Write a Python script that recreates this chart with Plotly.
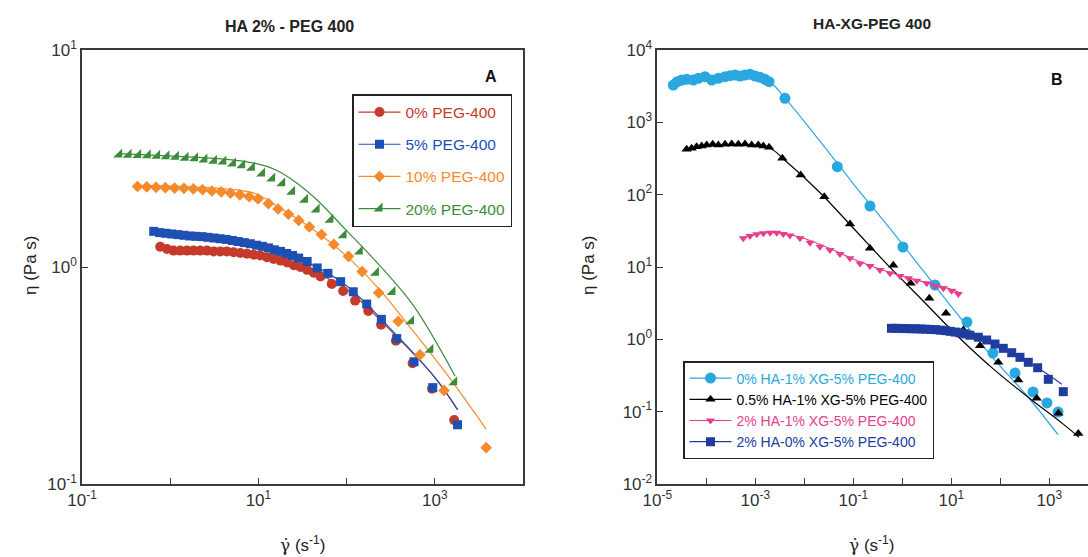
import plotly.graph_objects as go

# ---------------- Panel A : HA 2% - PEG 400 ----------------
a_red_x = [0.77, 0.92, 1.09, 1.30, 1.55, 1.84, 2.19, 2.61, 3.11, 3.70, 4.40, 5.24, 6.24, 7.43, 8.85,
           10.5, 12.5, 14.9, 17.8, 21.2, 25.2, 30.0, 35.7, 42.5, 50.6, 67.9, 91.4, 125, 176, 246, 362, 560, 930, 1660]
a_red_y = [1.24, 1.21, 1.19, 1.19, 1.19, 1.19, 1.19, 1.19, 1.18, 1.18, 1.18, 1.17, 1.16, 1.15, 1.14,
           1.13, 1.11, 1.09, 1.07, 1.05, 1.02, 1.00, 0.97, 0.94, 0.905, 0.836, 0.775, 0.70, 0.627, 0.542, 0.457, 0.36, 0.275, 0.197]
a_red_fit_x = [0.77, 5.0, 20.0, 50.0, 100, 300, 1000, 1810]
a_red_fit_y = [1.20, 1.17, 1.06, 0.92, 0.79, 0.52, 0.31, 0.22]

a_blue_x = [0.65, 0.76, 0.89, 1.04, 1.22, 1.43, 1.67, 1.96, 2.29, 2.68, 3.14, 3.68, 4.31, 5.05, 5.91, 6.92,
            8.1, 9.5, 11.1, 13.0, 15.2, 17.8, 20.9, 24.4, 28.6, 35.7, 46.4, 61.4, 85.5, 119, 169, 248, 370, 582, 949, 1810]
a_blue_y = [1.46, 1.44, 1.43, 1.42, 1.41, 1.40, 1.39, 1.385, 1.38, 1.37, 1.36, 1.35, 1.34, 1.325, 1.31, 1.295,
            1.28, 1.26, 1.245, 1.225, 1.20, 1.18, 1.155, 1.13, 1.10, 1.06, 0.99, 0.935, 0.856, 0.769, 0.675, 0.574, 0.468, 0.366, 0.278, 0.1875]
a_blue_fit_x = [0.65, 5.0, 20.0, 50.0, 100, 300, 1000, 1810]
a_blue_fit_y = [1.45, 1.33, 1.16, 0.98, 0.82, 0.53, 0.31, 0.22]

a_orange_x = [0.426, 0.542, 0.691, 0.881, 1.12, 1.43, 1.83, 2.33, 2.97, 3.79, 4.83, 6.15, 7.85, 9.91,
              13.0, 16.7, 21.9, 28.6, 37.8, 51.9, 71.6, 105, 150, 231, 385, 679, 1274, 3820]
a_orange_y = [2.35, 2.34, 2.33, 2.32, 2.31, 2.305, 2.29, 2.27, 2.24, 2.22, 2.19, 2.15, 2.11, 2.06,
              1.96, 1.85, 1.75, 1.64, 1.53, 1.41, 1.27, 1.12, 0.953, 0.760, 0.562, 0.394, 0.270, 0.147]
a_orange_fit_x = [0.426, 2.62, 9.22, 15.8, 38.9, 95.5, 235, 578, 1420, 3820]
a_orange_fit_y = [2.38, 2.32, 2.18, 1.92, 1.52, 1.14, 0.789, 0.502, 0.314, 0.179]

a_green_x = [0.264, 0.337, 0.433, 0.557, 0.711, 0.906, 1.16, 1.49, 1.91, 2.44, 3.13, 4.0, 5.14, 6.55, 8.43,
             11.0, 14.3, 18.6, 24.1, 33.7, 45.7, 65.5, 92.2, 141, 215, 331, 537, 890, 1660]
a_green_y = [3.30, 3.29, 3.28, 3.27, 3.26, 3.24, 3.22, 3.19, 3.17, 3.13, 3.09, 3.06, 3.00, 2.94, 2.87,
             2.70, 2.56, 2.43, 2.22, 2.04, 1.84, 1.65, 1.40, 1.18, 0.94, 0.766, 0.562, 0.416, 0.294]
a_green_fit_x = [0.264, 1.06, 4.10, 9.22, 15.8, 27.2, 46.6, 95.5, 235, 578, 1700]
a_green_fit_y = [3.33, 3.24, 3.14, 3.00, 2.80, 2.44, 2.03, 1.50, 1.02, 0.660, 0.314]

# ---------------- Panel B : HA-XG-PEG 400 ----------------
b_lb_x = [2.12e-5, 2.56e-5, 3.14e-5, 3.97e-5, 5.43e-5, 6.87e-5, 9.4e-5, 1.29e-4, 1.76e-4, 2.41e-4, 3.05e-4,
          3.85e-4, 4.88e-4, 6.17e-4, 7.80e-4, 9.86e-4, 1.25e-3, 1.58e-3, 1.91e-3, 4.04e-3, 0.0472, 0.219,
          1.03, 4.64, 20.9, 70.8, 200, 467, 897, 1510]
b_lb_y = [3280, 3650, 3850, 3930, 3850, 4060, 4280, 3850, 4060, 4280, 4420,
          4510, 4370, 4510, 4610, 4370, 4190, 3930, 3650, 2150, 244, 69.7,
          18.9, 5.64, 1.73, 0.647, 0.342, 0.187, 0.132, 0.0989]
b_lb_fit_x = [2.02e-5, 1.5e-4, 1.89e-3, 4.14e-3, 0.0203, 0.104, 0.537, 2.76, 14.2, 72.9, 375, 1510]
b_lb_fit_y = [3900, 4100, 3600, 2110, 562, 137, 35.4, 8.63, 2.11, 0.543, 0.157, 0.048]

b_bk_x = [3.97e-5, 5.02e-5, 6.35e-5, 8.05e-5, 1.02e-4, 1.35e-4, 1.76e-4, 2.41e-4, 3.30e-4, 4.51e-4, 6.17e-4,
          8.43e-4, 1.15e-3, 1.46e-3, 1.91e-3, 3.56e-3, 8.43e-3, 0.0256, 0.0857, 0.219, 0.655, 1.48, 3.56,
          7.80, 17.6, 38.5, 91.0, 233, 553, 1530, 3910]
b_bk_y = [424, 437, 461, 471, 486, 497, 486, 497, 501, 497, 501,
          486, 486, 471, 451, 318, 187, 93.8, 39.3, 18.1, 10.6, 5.94, 3.69,
          2.29, 1.35, 0.817, 0.481, 0.274, 0.153, 0.0948, 0.050]
b_bk_fit_x = [3.71e-5, 1.49e-4, 1.89e-3, 3.95e-3, 0.0203, 0.104, 0.537, 2.76, 14.2, 72.9, 376, 1930, 4040]
b_bk_fit_y = [424, 480, 445, 302, 109, 33.5, 10.2, 3.31, 1.07, 0.387, 0.157, 0.0673, 0.0443]

b_pk_x = [5.69e-4, 7.80e-4, 1.07e-3, 1.46e-3, 2.0e-3, 2.74e-3, 3.72e-3, 5.10e-3, 8.17e-3, 0.0131, 0.0209,
          0.0334, 0.0536, 0.0857, 0.137, 0.219, 0.351, 0.561, 0.897, 1.33, 1.97, 3.15, 4.65, 6.87, 10.2, 13.9]
b_pk_y = [24.9, 26.8, 28.3, 29.2, 29.8, 29.8, 28.6, 27.2, 24.9, 21.7, 19.1,
          17.2, 15.1, 13.2, 11.2, 10.3, 9.08, 8.18, 7.50, 6.98, 6.46, 5.95, 5.46, 5.07, 4.70, 4.24]
b_pk_fit_x = [5.7e-4, 2.0e-3, 8.0e-3, 0.033, 0.137, 0.56, 2.0, 6.9, 14.0]
b_pk_fit_y = [25.5, 30.0, 26.0, 18.0, 11.8, 8.4, 6.6, 5.3, 4.5]

b_db_x = [0.60, 0.76, 0.95, 1.2, 1.5, 1.9, 2.4, 3.0, 3.8, 4.8, 6.0, 7.6, 9.5, 12, 15, 19, 24,
          35.6, 52.7, 78, 115, 171, 252, 373, 579, 955, 1930]
b_db_y = [1.42, 1.42, 1.41, 1.41, 1.40, 1.40, 1.39, 1.38, 1.37, 1.36, 1.34, 1.32, 1.29, 1.26, 1.23, 1.19, 1.14,
          1.07, 0.979, 0.861, 0.751, 0.653, 0.564, 0.481, 0.405, 0.280, 0.189]
b_db_fit_x = [0.60, 10, 40, 150, 500, 1800]
b_db_fit_y = [1.42, 1.30, 1.05, 0.68, 0.43, 0.24]

# ---------------- styling ----------------
RED, BLUE, ORANGE, GREEN = "#C63A2B", "#1E50B4", "#F58A2C", "#3C8C3C"
LBLUE, BLACK, PINK, DBLUE = "#29A8E0", "#000000", "#E63E8C", "#203C9E"
FONT = "Liberation Sans, Arial, sans-serif"
AXC = "#3a3a3a"

fig = go.Figure()

def add_series(x, y, fx, fy, color, symbol, size, name, xa, ya, legend, group):
    fig.add_trace(go.Scatter(x=fx, y=fy, mode="lines",
                             line=dict(color=color, width=1.2, shape="spline", smoothing=1.0),
                             xaxis=xa, yaxis=ya, showlegend=False, hoverinfo="skip"))
    fig.add_trace(go.Scatter(x=x, y=y, mode="markers",
                             marker=dict(color=color, symbol=symbol, size=size, line=dict(width=0)),
                             xaxis=xa, yaxis=ya, showlegend=False))
    fig.add_trace(go.Scatter(x=[None], y=[None], mode="lines+markers",
                             line=dict(color=color, width=1.2),
                             marker=dict(color=color, symbol=symbol, size=size, line=dict(width=0)),
                             xaxis=xa, yaxis=ya, legend=legend, legendgroup=group,
                             name=f"<span style='color:{color}'>{name}</span>"))

add_series(a_red_x, a_red_y, a_red_fit_x, a_red_fit_y, RED, "circle", 10, "0% PEG-400", "x", "y", "legend", "a1")
add_series(a_blue_x, a_blue_y, a_blue_fit_x, a_blue_fit_y, BLUE, "square", 9, "5% PEG-400", "x", "y", "legend", "a2")
add_series(a_orange_x, a_orange_y, a_orange_fit_x, a_orange_fit_y, ORANGE, "diamond", 9, "10% PEG-400", "x", "y", "legend", "a3")
add_series(a_green_x, a_green_y, a_green_fit_x, a_green_fit_y, GREEN, "triangle-se", 10, "20% PEG-400", "x", "y", "legend", "a4")

add_series(b_lb_x, b_lb_y, b_lb_fit_x, b_lb_fit_y, LBLUE, "circle", 11, "0% HA-1% XG-5% PEG-400", "x2", "y2", "legend2", "b1")
add_series(b_bk_x, b_bk_y, b_bk_fit_x, b_bk_fit_y, BLACK, "triangle-up", 9, "0.5% HA-1% XG-5% PEG-400", "x2", "y2", "legend2", "b2")
add_series(b_pk_x, b_pk_y, b_pk_fit_x, b_pk_fit_y, PINK, "triangle-down", 8, "2% HA-1% XG-5% PEG-400", "x2", "y2", "legend2", "b3")
add_series(b_db_x, b_db_y, b_db_fit_x, b_db_fit_y, DBLUE, "square", 9, "2% HA-0% XG-5% PEG-400", "x2", "y2", "legend2", "b4")

def sup(e):
    return f"10<sup>{e}</sup>"

ax_common = dict(type="log", showgrid=False, zeroline=False, showline=True, linecolor=AXC, linewidth=1.5,
                 ticks="inside", ticklen=6, tickwidth=1.3, tickcolor=AXC, tickmode="array", automargin=False,
                 tickfont=dict(family=FONT, size=17, color="#333333"))

YDOM = [1 - 484 / 557, 1 - 50 / 557]

fig.update_layout(
    width=1088, height=557, autosize=False,
    margin=dict(l=0, r=0, t=0, b=0, pad=0),
    paper_bgcolor="white", plot_bgcolor="white",
    font=dict(family=FONT),
    xaxis=dict(ax_common, domain=[82 / 1088, 523 / 1088], range=[-1, 4], mirror=True, anchor="y",
               tickvals=[0.1, 1, 10, 100, 1000], ticktext=[sup(-1), "", sup(1), "", sup(3)]),
    yaxis=dict(ax_common, domain=YDOM, range=[-1, 1], mirror=True, anchor="x",
               tickvals=[0.1, 1, 10], ticktext=[sup(-1), sup(0), sup(1)]),
    xaxis2=dict(ax_common, domain=[657.3 / 1088, 1.0], range=[-5, 3.79], mirror=True, anchor="y2",
                tickvals=[1e-5, 1e-4, 1e-3, 1e-2, 1e-1, 1, 10, 100, 1000],
                ticktext=[sup(-5), "", sup(-3), "", sup(-1), "", sup(1), "", sup(3)]),
    yaxis2=dict(ax_common, domain=YDOM, range=[-2, 4], mirror=False, anchor="x2",
                tickvals=[1e-2, 1e-1, 1, 10, 100, 1e3, 1e4],
                ticktext=[sup(-2), sup(-1), sup(0), sup(1), sup(2), sup(3), sup(4)]),
    legend=dict(x=352 / 1088, y=1 - 94 / 557, xanchor="left", yanchor="top",
                bordercolor="#222222", borderwidth=1.5, bgcolor="white", itemwidth=42,
                font=dict(family=FONT, size=15.5), tracegroupgap=9),
    legend2=dict(x=683 / 1088, y=1 - 361 / 557, xanchor="left", yanchor="top",
                 bordercolor="#222222", borderwidth=1.5, bgcolor="white", itemwidth=42,
                 font=dict(family=FONT, size=14), tracegroupgap=0),
    showlegend=True,
)

def note(text, xc, yc, size, angle=0, color="#222"):
    return dict(text=text, x=xc / 1088, y=1 - yc / 557, xref="paper", yref="paper",
                xanchor="center", yanchor="middle", showarrow=False, textangle=angle,
                font=dict(family=FONT, size=size, color=color))

ann = [
    note("<b>HA 2% - PEG 400</b>", 289, 26, 16),
    note("<b>HA-XG-PEG 400</b>", 872, 24, 15.5),
    note("<b>A</b>", 491, 76, 16, color="#111"),
    note("<b>B</b>", 1057, 80, 16, color="#111"),
]
for xc in (30, 588):
    ann.append(note("η (Pa s)", xc, 265, 17, angle=-90))
for xc in (302, 871):
    ann.append(note("<span style='font-family:DejaVu Serif'>γ̇</span> (s<sup>-1</sup>)", xc, 544, 17))
fig.update_layout(annotations=ann)

fig.write_html("out.html", config={"responsive": False, "displayModeBar": False},
               post_script="document.body.style.margin='0';document.body.style.padding='0';")
